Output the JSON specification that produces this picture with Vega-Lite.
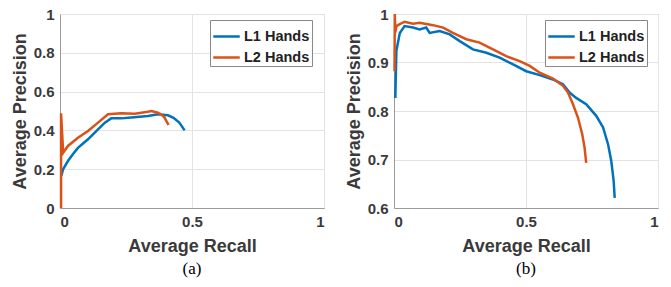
{
  "$schema": "https://vega.github.io/schema/vega-lite/v6.json",
  "background": "white",
  "padding": {"left": 10, "top": 6, "right": 5, "bottom": 5},
  "bounds": "flush",
  "spacing": 70,
  "datasets": {
    "a": [
      {"i": 1, "s": "L1 Hands", "r": 0.005, "p": 0.165},
      {"i": 2, "s": "L1 Hands", "r": 0.012, "p": 0.2},
      {"i": 3, "s": "L1 Hands", "r": 0.03, "p": 0.242},
      {"i": 4, "s": "L1 Hands", "r": 0.05, "p": 0.28},
      {"i": 5, "s": "L1 Hands", "r": 0.068, "p": 0.31},
      {"i": 6, "s": "L1 Hands", "r": 0.106, "p": 0.354},
      {"i": 7, "s": "L1 Hands", "r": 0.144, "p": 0.405},
      {"i": 8, "s": "L1 Hands", "r": 0.17, "p": 0.44},
      {"i": 9, "s": "L1 Hands", "r": 0.194, "p": 0.462},
      {"i": 10, "s": "L1 Hands", "r": 0.232, "p": 0.462},
      {"i": 11, "s": "L1 Hands", "r": 0.27, "p": 0.466},
      {"i": 12, "s": "L1 Hands", "r": 0.333, "p": 0.474},
      {"i": 13, "s": "L1 Hands", "r": 0.371, "p": 0.483},
      {"i": 14, "s": "L1 Hands", "r": 0.409, "p": 0.478},
      {"i": 15, "s": "L1 Hands", "r": 0.43, "p": 0.465},
      {"i": 16, "s": "L1 Hands", "r": 0.452, "p": 0.44},
      {"i": 17, "s": "L1 Hands", "r": 0.472, "p": 0.4},
      {"i": 1, "s": "L2 Hands", "r": 0.004, "p": 0.0},
      {"i": 2, "s": "L2 Hands", "r": 0.004, "p": 0.488},
      {"i": 3, "s": "L2 Hands", "r": 0.012, "p": 0.285},
      {"i": 4, "s": "L2 Hands", "r": 0.03, "p": 0.32},
      {"i": 5, "s": "L2 Hands", "r": 0.068, "p": 0.362},
      {"i": 6, "s": "L2 Hands", "r": 0.106, "p": 0.397},
      {"i": 7, "s": "L2 Hands", "r": 0.144, "p": 0.44},
      {"i": 8, "s": "L2 Hands", "r": 0.182, "p": 0.483},
      {"i": 9, "s": "L2 Hands", "r": 0.232, "p": 0.488},
      {"i": 10, "s": "L2 Hands", "r": 0.283, "p": 0.486},
      {"i": 11, "s": "L2 Hands", "r": 0.333, "p": 0.496},
      {"i": 12, "s": "L2 Hands", "r": 0.346, "p": 0.5},
      {"i": 13, "s": "L2 Hands", "r": 0.371, "p": 0.491},
      {"i": 14, "s": "L2 Hands", "r": 0.385, "p": 0.48},
      {"i": 15, "s": "L2 Hands", "r": 0.396, "p": 0.466},
      {"i": 16, "s": "L2 Hands", "r": 0.411, "p": 0.428}
    ],
    "b": [
      {"i": 1, "s": "L1 Hands", "r": 0.005, "p": 0.827},
      {"i": 2, "s": "L1 Hands", "r": 0.009, "p": 0.924},
      {"i": 3, "s": "L1 Hands", "r": 0.022, "p": 0.961},
      {"i": 4, "s": "L1 Hands", "r": 0.04, "p": 0.975},
      {"i": 5, "s": "L1 Hands", "r": 0.072, "p": 0.972},
      {"i": 6, "s": "L1 Hands", "r": 0.097, "p": 0.968},
      {"i": 7, "s": "L1 Hands", "r": 0.122, "p": 0.972},
      {"i": 8, "s": "L1 Hands", "r": 0.135, "p": 0.961},
      {"i": 9, "s": "L1 Hands", "r": 0.173, "p": 0.965},
      {"i": 10, "s": "L1 Hands", "r": 0.211, "p": 0.958},
      {"i": 11, "s": "L1 Hands", "r": 0.249, "p": 0.944},
      {"i": 12, "s": "L1 Hands", "r": 0.299, "p": 0.927},
      {"i": 13, "s": "L1 Hands", "r": 0.35, "p": 0.92},
      {"i": 14, "s": "L1 Hands", "r": 0.4, "p": 0.91},
      {"i": 15, "s": "L1 Hands", "r": 0.451, "p": 0.896},
      {"i": 16, "s": "L1 Hands", "r": 0.501, "p": 0.882},
      {"i": 17, "s": "L1 Hands", "r": 0.552, "p": 0.874},
      {"i": 18, "s": "L1 Hands", "r": 0.602, "p": 0.865},
      {"i": 19, "s": "L1 Hands", "r": 0.64, "p": 0.855},
      {"i": 20, "s": "L1 Hands", "r": 0.665, "p": 0.838},
      {"i": 21, "s": "L1 Hands", "r": 0.69, "p": 0.827},
      {"i": 22, "s": "L1 Hands", "r": 0.728, "p": 0.814},
      {"i": 23, "s": "L1 Hands", "r": 0.766, "p": 0.79},
      {"i": 24, "s": "L1 Hands", "r": 0.792, "p": 0.766},
      {"i": 25, "s": "L1 Hands", "r": 0.811, "p": 0.731},
      {"i": 26, "s": "L1 Hands", "r": 0.823, "p": 0.697},
      {"i": 27, "s": "L1 Hands", "r": 0.832, "p": 0.656},
      {"i": 28, "s": "L1 Hands", "r": 0.836, "p": 0.621},
      {"i": 1, "s": "L2 Hands", "r": 0.002, "p": 0.882},
      {"i": 2, "s": "L2 Hands", "r": 0.003, "p": 1.0},
      {"i": 3, "s": "L2 Hands", "r": 0.005, "p": 0.962},
      {"i": 4, "s": "L2 Hands", "r": 0.009, "p": 0.975},
      {"i": 5, "s": "L2 Hands", "r": 0.022, "p": 0.979},
      {"i": 6, "s": "L2 Hands", "r": 0.04, "p": 0.984},
      {"i": 7, "s": "L2 Hands", "r": 0.072, "p": 0.98},
      {"i": 8, "s": "L2 Hands", "r": 0.097, "p": 0.982},
      {"i": 9, "s": "L2 Hands", "r": 0.117, "p": 0.98},
      {"i": 10, "s": "L2 Hands", "r": 0.148, "p": 0.977},
      {"i": 11, "s": "L2 Hands", "r": 0.186, "p": 0.972},
      {"i": 12, "s": "L2 Hands", "r": 0.223, "p": 0.961},
      {"i": 13, "s": "L2 Hands", "r": 0.274, "p": 0.948},
      {"i": 14, "s": "L2 Hands", "r": 0.324, "p": 0.941},
      {"i": 15, "s": "L2 Hands", "r": 0.375, "p": 0.927},
      {"i": 16, "s": "L2 Hands", "r": 0.425, "p": 0.913},
      {"i": 17, "s": "L2 Hands", "r": 0.476, "p": 0.903},
      {"i": 18, "s": "L2 Hands", "r": 0.514, "p": 0.893},
      {"i": 19, "s": "L2 Hands", "r": 0.552, "p": 0.879},
      {"i": 20, "s": "L2 Hands", "r": 0.602, "p": 0.867},
      {"i": 21, "s": "L2 Hands", "r": 0.64, "p": 0.852},
      {"i": 22, "s": "L2 Hands", "r": 0.659, "p": 0.838},
      {"i": 23, "s": "L2 Hands", "r": 0.678, "p": 0.814},
      {"i": 24, "s": "L2 Hands", "r": 0.697, "p": 0.786},
      {"i": 25, "s": "L2 Hands", "r": 0.713, "p": 0.752},
      {"i": 26, "s": "L2 Hands", "r": 0.722, "p": 0.724},
      {"i": 27, "s": "L2 Hands", "r": 0.728, "p": 0.693}
    ]
  },
  "hconcat": [
    {
      "width": 264,
      "height": 194,
      "title": {"text": "(a)"},
      "data": {"name": "a"},
      "mark": {"type": "line", "strokeWidth": 2.5},
      "encoding": {
        "x": {"field": "r", "type": "quantitative", "title": "Average Recall",
              "scale": {"domain": [0, 1], "nice": false},
              "axis": {"values": [0, 0.5, 1]}},
        "y": {"field": "p", "type": "quantitative", "title": "Average Precision",
              "scale": {"domain": [0, 1], "nice": false},
              "axis": {"values": [0, 0.2, 0.4, 0.6, 0.8, 1]}},
        "color": {"field": "s", "type": "nominal", "title": null,
                  "scale": {"domain": ["L1 Hands", "L2 Hands"], "range": ["#0072BD", "#D95319"]},
                  "legend": {"orient": "none", "legendX": 150, "legendY": 6}},
        "order": {"field": "i", "type": "quantitative"}
      }
    },
    {
      "width": 264,
      "height": 194,
      "title": {"text": "(b)"},
      "data": {"name": "b"},
      "mark": {"type": "line", "strokeWidth": 2.5},
      "encoding": {
        "x": {"field": "r", "type": "quantitative", "title": "Average Recall",
              "scale": {"domain": [0, 1], "nice": false},
              "axis": {"values": [0, 0.5, 1]}},
        "y": {"field": "p", "type": "quantitative", "title": "Average Precision",
              "scale": {"domain": [0.6, 1], "nice": false, "zero": false},
              "axis": {"values": [0.6, 0.7, 0.8, 0.9, 1]}},
        "color": {"field": "s", "type": "nominal", "title": null,
                  "scale": {"domain": ["L1 Hands", "L2 Hands"], "range": ["#0072BD", "#D95319"]},
                  "legend": {"orient": "none", "legendX": 151, "legendY": 6}},
        "order": {"field": "i", "type": "quantitative"}
      }
    }
  ],
  "resolve": {"scale": {"color": "independent", "y": "independent"}, "legend": {"color": "independent"}},
  "config": {
    "view": {"stroke": "#9a9a9a", "strokeWidth": 1},
    "title": {"orient": "bottom", "font": "Liberation Serif", "fontSize": 17, "fontWeight": "normal", "color": "#000", "offset": 6, "anchor": "middle"},
    "axis": {
      "labelFont": "Liberation Sans", "labelFontWeight": "bold", "labelFontSize": 15, "labelColor": "#3a3a3a",
      "titleFont": "Liberation Sans", "titleFontWeight": "bold", "titleFontSize": 18, "titleColor": "#3a3a3a",
      "domainColor": "#9a9a9a", "gridColor": "#e3e3e3", "gridWidth": 1, "ticks": false,
      "labelPadding": 6, "format": "~g"
    },
    "axisX": {"titlePadding": 8},
    "axisY": {"titlePadding": 4},
    "legend": {
      "labelFont": "Liberation Sans", "labelFontWeight": "bold", "labelFontSize": 14.5, "labelColor": "#222",
      "symbolType": "stroke", "symbolStrokeWidth": 2.5, "symbolSize": 700,
      "strokeColor": "#888", "fillColor": "white", "padding": 2, "rowPadding": -5, "labelOffset": 3
    }
  }
}
